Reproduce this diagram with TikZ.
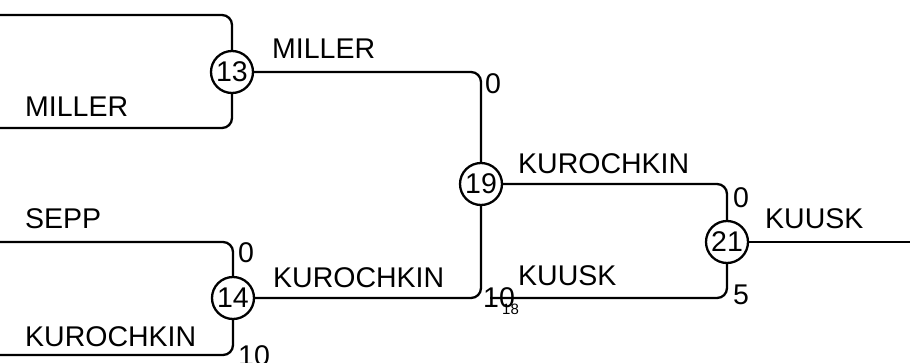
\documentclass[tikz,border=0pt]{standalone}
\usepackage{fontspec}
\setmainfont{Liberation Sans}
\usetikzlibrary{positioning}

\tikzset{
  match/.style={circle, draw, line width=2.3pt, inner sep=0pt, minimum size=42pt,
    font=\fontsize{28.5}{31}\selectfont},
  player/.style={anchor=base west, inner sep=0pt, font=\fontsize{28.5}{31}\selectfont},
  score/.style={anchor=base west, inner sep=0pt, font=\fontsize{28.5}{31}\selectfont},
  link/.style={line width=2.3pt, rounded corners=10pt},
}

\begin{document}
\begin{tikzpicture}[x=1pt, y=-1pt]
    \useasboundingbox (0,0) rectangle (910,362);

    % Matches
    \node[match] (m13) at (232,72) {13};
    \node[match] (m14) at (233,298) {14};
    \node[match] (m19) at (481,184) {19};
    \node[match] (m21) at (727,242) {21};

    % Free ends
    \coordinate (in13a) at (0,15);
    \coordinate (in13b) at (0,128);
    \coordinate (in14a) at (0,242);
    \coordinate (in14b) at (0,355);
    \coordinate (in21b) at (490,298);
    \coordinate (out21) at (910,242);

    % Connectors
    \draw[link] (in13a) -| (m13.north);
    \draw[link] (in13b) -| (m13.south);
    \draw[link] (in14a) -| (m14.north);
    \draw[link] (in14b) -| (m14.south);
    \draw[link] (m13.east) -| (m19.north);
    \draw[link] (m14.east) -| (m19.south);
    \draw[link] (m19.east) -| (m21.north);
    \draw[link] (in21b) -| (m21.south);
    \draw[link] (m21.east) -- (out21);

    % Players
    \node[player] (p13b) at (25,116) {MILLER};
    \node[player] (p14a) at (25,228) {SEPP};
    \node[player] (p14b) at (25,346) {KUROCHKIN};
    \node[player] (w13) at (272,58) {MILLER};
    \node[player] (w14) at (273,287) {KUROCHKIN};
    \node[player] (w19) at (518,173) {KUROCHKIN};
    \node[player] (l21) at (518,285) {KUUSK};
    \node[player] (w21) at (765,228) {KUUSK};

    % Scores
    \node[score] (s14a) at (238,262) {0};
    \node[score] (s14b) at (238,365) {10};
    \node[score] (s13) at (485,93) {0};
    \node[score] (s19) at (483,307) {10};
    \node[score, font=\fontsize{15}{17}\selectfont] (ref18) at (502,314) {18};
    \node[score] (s21a) at (733,207) {0};
    \node[score] (s21b) at (733,304) {5};
\end{tikzpicture}
\end{document}
